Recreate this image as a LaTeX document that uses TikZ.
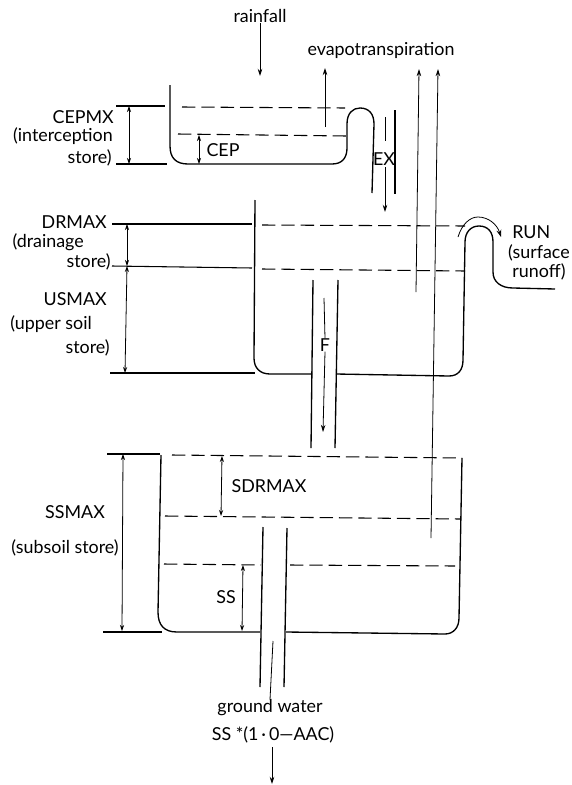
\documentclass[tikz,border=0pt]{standalone}
\usepackage{fontspec}
\setmainfont{Lato}
\usepackage{tikz}
\usetikzlibrary{arrows.meta}
\tikzset{
	wall/.style={draw=black,line width=1pt,line join=round},
	waterlevel/.style={draw=black,line width=0.8pt,dash pattern=on 10pt off 4.5pt},
	limit/.style={draw=black,line width=0.8pt},
	stem/.style={line width=0.6pt},
	flow/.style={-{Stealth[length=1.9mm,width=1.2mm]},line width=0.6pt},
	depth/.style={{Stealth[length=1.6mm,width=1.1mm]}-{Stealth[length=1.6mm,width=1.1mm]},line width=0.6pt},
	lab/.style={font=\fontsize{13.4}{15}\selectfont,inner sep=0pt},
	labr/.style={lab,anchor=east},
	labl/.style={lab,anchor=west}
}
\begin{document}
\begin{tikzpicture}[x=0.75pt,y=-0.75pt]
	\useasboundingbox (0,0) rectangle (571,785);

	% interception store
	\draw[wall] (170,85) -- (170,146) .. controls (170,158) and (176,164) .. (188,164)
		-- (332,164) .. controls (342,164) and (347,158) .. (347,148)
		-- (347,124) .. controls (347,113) and (353,108) .. (360,108)
		.. controls (369,108) and (374,114) .. (374,124) -- (372,193);
	\draw[wall] (395,110) -- (395,194);
	\draw[waterlevel] (182,107) -- (345,108);
	\draw[waterlevel] (178,134) -- (346,136);
	\draw[limit] (116,106) -- (165,106);
	\draw[limit] (116,164) -- (167,164);
	\draw[depth] (129,106) -- (129,164);
	\draw[depth] (199,135) -- (199,164);

	% upper store
	\draw[wall] (255,200) -- (254,358) .. controls (254,368) and (260,374) .. (270,374)
		-- (312,374);
	\draw[wall] (336,374) -- (449,376) .. controls (458,376) and (463,370) .. (463,360)
		-- (465,242) .. controls (465,232) and (471,226) .. (479,226)
		.. controls (488,226) and (493,232) .. (493,242)
		-- (493,272) .. controls (493,282) and (501,288) .. (513,288) -- (555,289);
	\draw[waterlevel] (262,225) -- (465,226);
	\draw[waterlevel] (262,269) -- (465,271);
	\draw[limit] (112,224) -- (252,224);
	\draw[limit] (112,266) -- (252,268);
	\draw[limit] (110,373) -- (255,373);
	\draw[depth] (127,224) -- (127,266);
	\draw[depth] (127,266) -- (125,373);

	% pipe F
	\draw[wall] (313,280) -- (311,448);
	\draw[wall] (338,280) -- (335,448);

	% subsoil store
	\draw[wall] (161,455) -- (158,612) .. controls (158,625) and (164,632) .. (177,632)
		-- (260,632);
	\draw[wall] (286,632) -- (445,634) .. controls (453,634) and (459,628) .. (459,618)
		-- (462,458);
	\draw[waterlevel] (172,455) -- (462,458);
	\draw[waterlevel] (165,516) -- (460,519);
	\draw[waterlevel] (164,564) -- (261,565);
	\draw[waterlevel] (290,565) -- (455,566);
	\draw[limit] (107,454) -- (160,454);
	\draw[limit] (103,632) -- (162,632);
	\draw[depth] (123,454) -- (122,631);
	\draw[depth] (222,456) -- (221,516);
	\draw[depth] (243,565) -- (242,631);

	% outlet pipe
	\draw[wall] (263,527) -- (260,687);
	\draw[wall] (287,528) -- (284,687);

	% flows
	\node[lab] (rainfall) at (260,16) {rainfall};
	\node[lab] (evap) at (381,50) {evapotranspiration};
	\node[lab] (ex) at (384,159) {EX};
	\node[lab] (f) at (325,345) {F};
	\draw[flow] (rainfall.south) -- (260,76);
	\draw[flow] (325,127) -- (325,68);
	\draw[flow] (416,292) -- (419,69);
	\draw[flow] (431,538) -- (438,69);
	\draw[stem] (385,117) -- (385,141);
	\draw[flow] (385,167) -- (385,212);
	\draw[stem] (324,298) -- (f.north);
	\draw[flow] (f.south) -- (323,432);
	\draw[-{Stealth[length=1.9mm,width=1.3mm]},line width=0.6pt]
		(458,237) .. controls (462,224) and (470,217) .. (478,217)
		.. controls (488,217) and (497,224) .. (501,237);

	% labels
	\node[lab] at (223,150) (cep) {CEP};
	\node[labr] at (114,117) (cepmx) {CEPMX};
	\node[labr] at (113,136) (cepa) {(interception};
	\node[labr] at (112,158) (cepb) {store)};
	\node[labr] at (107,222) (drmax) {DRMAX};
	\node[labr] at (84,242) (dra) {(drainage};
	\node[labr] at (111,262) (drb) {store)};
	\node[labr] at (107,299) (usmax) {USMAX};
	\node[labr] at (92,324) (usa) {(upper soil};
	\node[labr] at (110,348) (usb) {store)};
	\node[lab] at (75,512) (ssmax) {SSMAX};
	\node[labr] at (119,548) (ssa) {(subsoil store)};
	\node[labl] at (512,232) (run) {RUN};
	\node[lab] at (539,253) (runa) {(surface};
	\node[lab] at (539,272) (runb) {runoff)};
	\node[lab] at (269,486) (sdrmax) {SDRMAX};
	\node[lab] at (226,597) (ss) {SS};
	\node[lab] at (270,708) (gw) {ground water};
	\node[lab] at (273,735) (gwf) {SS *(1\,·\,0—AAC)};
	\draw[stem] (273,641) -- (gw.north);
	\draw[flow] (272,747) -- (272,784);
\end{tikzpicture}
\end{document}
